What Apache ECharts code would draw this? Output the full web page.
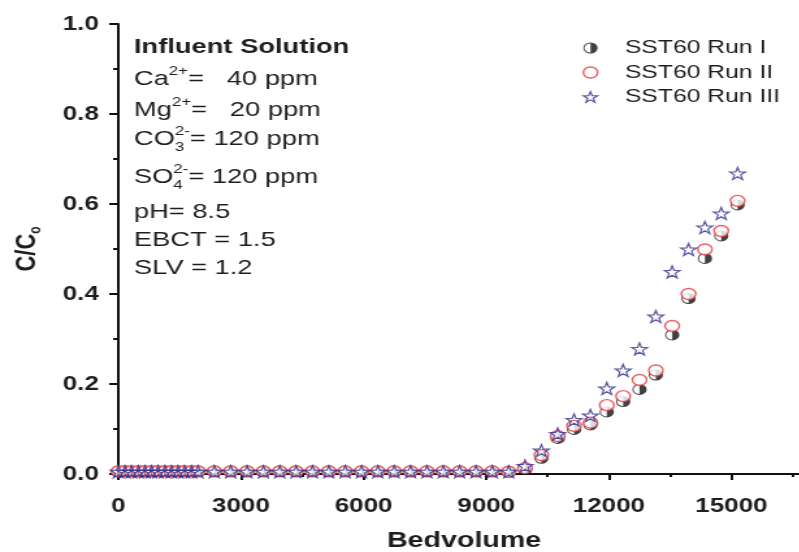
<!DOCTYPE html>
<html>
<head>
<meta charset="utf-8">
<script src="https://cdn.jsdelivr.net/npm/echarts/dist/echarts.min.js"></script>
<style>
html,body{margin:0;padding:0;background:#ffffff;overflow:hidden;}
#wrap{width:799px;height:552px;overflow:hidden;position:relative;background:#fff;}
#chart{width:615px;height:552px;transform:scaleX(1.3);transform-origin:0 0;}
</style>
</head>
<body>
<div id="wrap"><div id="chart"></div></div>
<script>
// ---- data ----
const bedVolume = [0,160,320,490,650,810,970,1140,1300,1460,1620,1790,1950,
  2350,2750,3150,3550,3950,4350,4750,5150,5550,5950,6350,6750,7150,7550,7950,8350,8750,9150,
  9550,9950,10350,10750,11150,11550,11950,12350,12750,13150,13550,13950,14350,14750,15150];
const runI = [0.005,0.005,0.005,0.005,0.005,0.005,0.005,0.005,0.005,0.005,0.005,0.005,0.005,
  0.005,0.005,0.005,0.005,0.005,0.005,0.005,0.005,0.005,0.005,0.005,0.005,0.005,0.005,0.005,0.005,0.005,0.005,
  0.004,0.010,0.035,0.079,0.099,0.109,0.138,0.161,0.188,0.220,0.309,0.390,0.479,0.529,0.598];
const runII = [0.006,0.006,0.006,0.006,0.006,0.006,0.006,0.006,0.006,0.006,0.006,0.006,0.006,
  0.006,0.006,0.006,0.006,0.006,0.006,0.006,0.006,0.006,0.006,0.006,0.006,0.006,0.006,0.006,0.006,0.006,0.006,
  0.005,0.013,0.042,0.084,0.107,0.114,0.153,0.173,0.209,0.230,0.329,0.400,0.499,0.540,0.607];
const runIII = [0.005,0.005,0.005,0.005,0.005,0.005,0.005,0.005,0.005,0.005,0.005,0.005,0.005,
  0.005,0.005,0.005,0.005,0.005,0.005,0.005,0.005,0.005,0.005,0.005,0.005,0.005,0.005,0.005,0.005,0.005,0.005,
  0.005,0.018,0.052,0.089,0.120,0.130,0.190,0.230,0.278,0.350,0.449,0.499,0.548,0.579,0.668];
const seriesNames = ['SST60 Run I','SST60 Run II','SST60 Run III'];
const xTickStep = 3000;
const yTickStep = 0.2;

// ---- styling ----
const FONT = '"Liberation Sans", Arial, Helvetica, sans-serif';
const TXT = '#1e1e1e';
const HALF = 'path://M10,0 A10,10 0 1,1 10,20 A10,10 0 1,1 10,0 Z M10,1.6 A8.4,8.4 0 1,0 10,18.4 A8.4,8.4 0 1,0 10,1.6 Z M10,1.6 A8.4,8.4 0 0,1 10,18.4 Z';
const CIRC = 'path://M10,0 A10,10 0 1,1 10,20 A10,10 0 1,1 10,0 Z';
const STAR = 'path://M10,0 L12.351,6.764 L19.511,6.91 L13.804,11.236 L15.878,18.09 L10,14 L4.122,18.09 L6.196,11.236 L0.489,6.91 L7.649,6.764 Z';
const styleI = {color:'#111111', borderWidth:0};
const styleII = {color:'#ffffff', borderColor:'#e8383d', borderWidth:1.4};
const styleIII = {color:'rgba(255,255,255,0)', borderColor:'#2e2e8e', borderWidth:1.2};

// ---- annotation text (with super/subscripts) ----
const mctx = document.createElement('canvas').getContext('2d');
function tw(t, size, weight){ mctx.font = (weight||'normal') + ' ' + size + 'px ' + FONT; return mctx.measureText(t).width; }
function txt(x, y, t, size, weight){
  return {type:'text', x:x, y:y, silent:true,
    style:{text:t, fontSize:size, fontWeight:weight||'normal', fontFamily:FONT, fill:TXT, align:'left', verticalAlign:'middle'}};
}
const noteLines = [
  {y:47, parts:[{t:'Influent Solution', bold:true}]},
  {y:79, parts:[{t:'Ca'},{t:'2+',sup:true},{t:'=   40 ppm'}]},
  {y:110, parts:[{t:'Mg'},{t:'2+',sup:true},{t:'=   20 ppm'}]},
  {y:139, parts:[{t:'CO'},{t:'3',sub:true,top:'2-'},{t:'= 120 ppm'}]},
  {y:177, parts:[{t:'SO'},{t:'4',sub:true,top:'2-'},{t:'= 120 ppm'}]},
  {y:212, parts:[{t:'pH= 8.5'}]},
  {y:240, parts:[{t:'EBCT = 1.5'}]},
  {y:268, parts:[{t:'SLV = 1.2'}]}
];
const MAIN = 21, SMALL = 13, noteLeft = 103;
const graphics = [];
noteLines.forEach(function(line){
  let x = noteLeft;
  line.parts.forEach(function(p){
    if (p.sup) { graphics.push(txt(x, line.y - 8, p.t, SMALL)); x += tw(p.t, SMALL); }
    else if (p.sub) {
      graphics.push(txt(x, line.y + 8, p.t, SMALL));
      if (p.top) graphics.push(txt(x, line.y - 8, p.top, SMALL));
      x += Math.max(tw(p.t, SMALL), p.top ? tw(p.top, SMALL) : 0);
    } else {
      const w = p.bold ? 'bold' : 'normal';
      graphics.push(txt(x, line.y, p.t, MAIN, w)); x += tw(p.t, MAIN, w);
    }
  });
});

function pairs(ys){ return bedVolume.map(function(x, i){ return [x, ys[i]]; }); }

const chart = echarts.init(document.getElementById('chart'), null, {renderer:'canvas'});
const axisTextStyle = {fontSize:20, fontWeight:'bold', fontFamily:FONT, color:TXT};
chart.setOption({
  animation:false,
  backgroundColor:'#ffffff',
  grid:{left:91, top:24, bottom:78, right:-42, containLabel:false, outerBoundsMode:'none'},
  xAxis:{
    type:'value', min:0, max:18000, interval:xTickStep,
    name:'Bedvolume', nameLocation:'middle', nameGap:56,
    nameTextStyle:{fontSize:22, fontWeight:'bold', fontFamily:FONT, color:TXT, padding:[0,34,0,0]},
    axisLine:{show:true, onZero:false, lineStyle:{color:'#111', width:2}},
    axisTick:{show:true, inside:false, length:6, lineStyle:{color:'#111', width:2}},
    minorTick:{show:true, splitNumber:2, length:3, lineStyle:{color:'#111', width:2}},
    axisLabel:Object.assign({margin:22, showMaxLabel:false, formatter:function(v){ return String(v); }}, axisTextStyle),
    splitLine:{show:false}
  },
  yAxis:{
    type:'value', min:0, max:1, interval:yTickStep,
    name:'{a|C/C}{b|o}', nameLocation:'middle', nameGap:57,
    nameTextStyle:{rich:{
      a:{fontSize:22, fontWeight:'bold', fontFamily:FONT, color:TXT, lineHeight:26},
      b:{fontSize:12, fontWeight:'bold', fontFamily:FONT, color:TXT, lineHeight:12, verticalAlign:'bottom'}
    }},
    axisLine:{show:true, lineStyle:{color:'#111', width:2}},
    axisTick:{show:true, inside:false, length:7, lineStyle:{color:'#111', width:2}},
    minorTick:{show:true, splitNumber:2, length:4, lineStyle:{color:'#111', width:2}},
    axisLabel:Object.assign({margin:15, formatter:function(v){ return v.toFixed(1); }}, axisTextStyle),
    splitLine:{show:false}
  },
  legend:{
    orient:'vertical', left:448, top:38, padding:0, itemGap:4.5,
    itemWidth:11, itemHeight:11,
    textStyle:{fontSize:19, fontFamily:FONT, color:TXT, lineHeight:20, padding:[0,0,0,16]},
    data:[
      {name:seriesNames[0], icon:HALF, itemStyle:styleI},
      {name:seriesNames[1], icon:CIRC, itemStyle:styleII},
      {name:seriesNames[2], icon:STAR, itemStyle:styleIII}
    ]
  },
  graphic:graphics,
  series:[
    {name:seriesNames[0], type:'scatter', data:pairs(runI), symbol:HALF, symbolSize:11, itemStyle:styleI, emphasis:{disabled:true}, z:2},
    {name:seriesNames[1], type:'scatter', data:pairs(runII), symbol:CIRC, symbolSize:11, itemStyle:styleII, emphasis:{disabled:true}, z:3},
    {name:seriesNames[2], type:'scatter', data:pairs(runIII), symbol:STAR, symbolSize:12, itemStyle:styleIII, emphasis:{disabled:true}, z:4}
  ]
});
</script>
</body>
</html>
